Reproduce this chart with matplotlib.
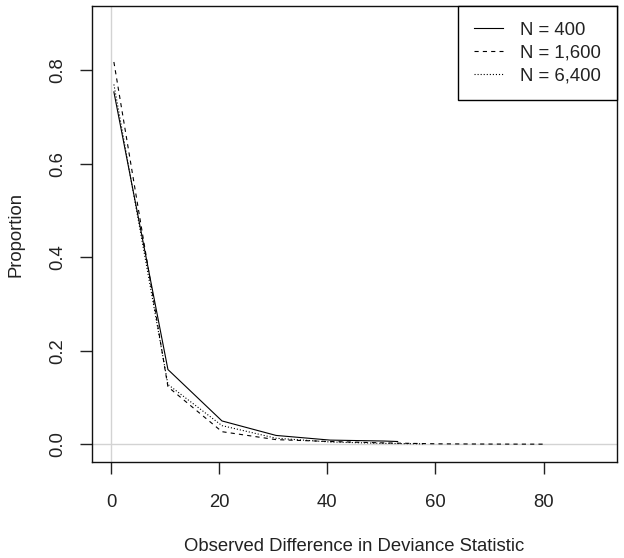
import matplotlib
matplotlib.use("Agg")
import matplotlib.pyplot as plt

plt.rcParams['font.family'] = ['Liberation Sans', 'DejaVu Sans']
plt.rcParams['lines.scale_dashes'] = False

# bin midpoints and proportions
x_400 = [0.5, 10.5, 20.5, 30.5, 40.5, 50.5, 53.0]
p_400 = [0.754, 0.160, 0.050, 0.019, 0.009, 0.007, 0.006]

x_1600 = [0.5, 10.5, 20.5, 30.5, 40.5, 50.5, 60.5, 70.5, 80.5]
p_1600 = [0.818, 0.123, 0.027, 0.010, 0.006, 0.003, 0.001, 0.0005, 0.0003]

x_6400 = [0.5, 10.5, 20.5, 30.5, 40.5, 50.5, 58.0]
p_6400 = [0.770, 0.128, 0.040, 0.013, 0.005, 0.002, 0.001]

labels = ['N = 400', 'N = 1,600', 'N = 6,400']
xticks = [0, 20, 40, 60, 80]
yticks = [0.0, 0.2, 0.4, 0.6, 0.8]

fig = plt.figure(figsize=(6.24, 5.58), dpi=100)
ax = fig.add_axes([0.147, 0.1715, 0.841, 0.8175])

# reference lines at x = 0 and y = 0
ax.axvline(0, color='#d3d3d3', lw=1, zorder=0)
ax.axhline(0, color='#d3d3d3', lw=1, zorder=0)

ax.plot(x_400, p_400, color='black', lw=0.8, ls='-', label=labels[0])
ax.plot(x_1600, p_1600, color='black', lw=0.8, ls=(0, (3, 3)), label=labels[1])
ax.plot(x_6400, p_6400, color='black', lw=0.8, ls=(0, (0.8, 1.4)), label=labels[2])

ax.set_xlim(-3.6, 93.5)
ax.set_ylim(-0.0385, 0.9375)
ax.set_xticks(xticks)
ax.set_xticklabels([str(v) for v in xticks])
ax.set_yticks(yticks)
ax.set_yticklabels(['%.1f' % v for v in yticks], rotation=90, va='center')

ax.tick_params(axis='both', length=8.5, width=1, labelsize=13.3, color='#222222', labelcolor='#222222')
ax.tick_params(axis='x', pad=14)
ax.tick_params(axis='y', pad=10)
for s in ax.spines.values():
    s.set_linewidth(1)
    s.set_color('#111111')

ax.set_xlabel('Observed Difference in Deviance Statistic', fontsize=13.3, color='#222222', labelpad=20)
ax.set_ylabel('Proportion', fontsize=13.3, color='#222222', labelpad=18)

leg = ax.legend(loc='upper right', fontsize=13.3, frameon=True, fancybox=False,
                edgecolor='black', framealpha=1, borderaxespad=0,
                handlelength=1.6, handletextpad=0.9, labelspacing=0.32, borderpad=0.85)
leg.get_frame().set_linewidth(1)
for t in leg.get_texts():
    t.set_color('#222222')

fig.savefig('out.png', dpi=100)
